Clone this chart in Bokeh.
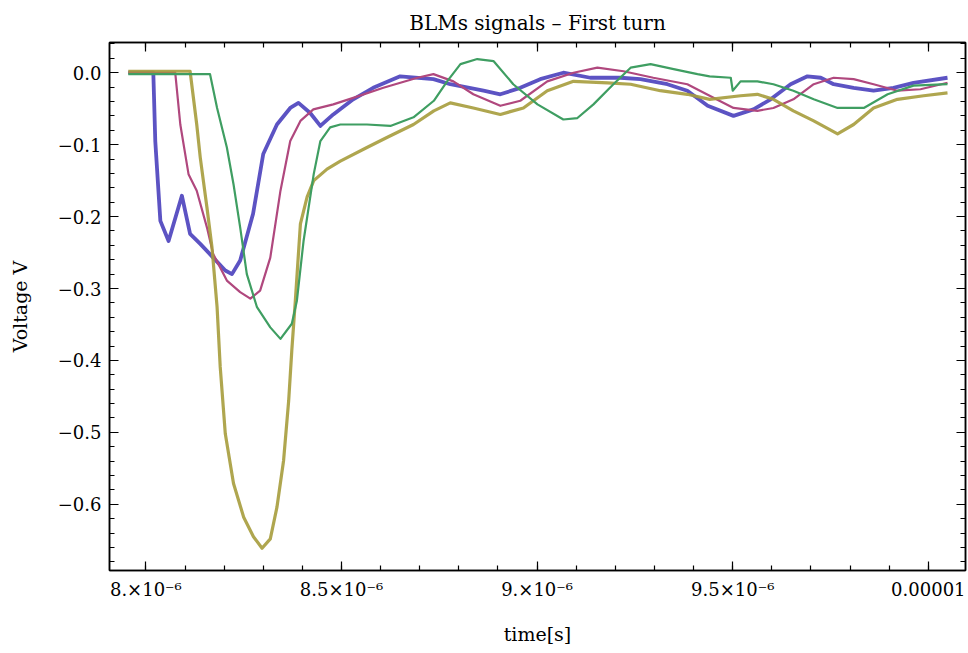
import numpy as np
from bokeh.plotting import figure
from bokeh.models import Range1d, LinearAxis, FixedTicker, CustomJSTickFormatter
from bokeh.embed import file_html
from bokeh.resources import INLINE

# time in microseconds, voltage in V
BLUE_T = [7.955, 8.019, 8.024, 8.037, 8.058, 8.092, 8.113, 8.139, 8.172, 8.203, 8.220, 8.241, 8.274,
          8.300, 8.335, 8.369, 8.390, 8.420, 8.446, 8.479, 8.530, 8.581, 8.650, 8.735, 8.778, 8.863,
          8.906, 8.957, 9.008, 9.067, 9.136, 9.213, 9.264, 9.333, 9.384, 9.436, 9.502, 9.553, 9.597,
          9.648, 9.691, 9.725, 9.758, 9.809, 9.860, 9.911, 9.962, 10.049]
BLUE_V = [0.0, 0.0, -0.095, -0.206, -0.234, -0.171, -0.224, -0.238, -0.257, -0.275, -0.280, -0.261, -0.196,
          -0.113, -0.072, -0.049, -0.042, -0.056, -0.074, -0.058, -0.037, -0.021, -0.005, -0.009, -0.016, -0.025,
          -0.030, -0.021, -0.009, 0.000, -0.007, -0.007, -0.009, -0.016, -0.025, -0.046, -0.060, -0.051, -0.037,
          -0.016, -0.005, -0.007, -0.016, -0.021, -0.025, -0.021, -0.014, -0.007]

MAGENTA_T = [7.955, 8.075, 8.088, 8.109, 8.130, 8.156, 8.172, 8.207, 8.241, 8.267, 8.292, 8.318, 8.344,
             8.369, 8.395, 8.428, 8.479, 8.530, 8.607, 8.694, 8.735, 8.786, 8.837, 8.906, 8.957, 9.026,
             9.093, 9.154, 9.221, 9.297, 9.384, 9.441, 9.502, 9.563, 9.604, 9.655, 9.707, 9.758, 9.809,
             9.860, 9.921, 9.980, 10.049]
MAGENTA_V = [0.0, 0.0, -0.072, -0.141, -0.164, -0.215, -0.252, -0.289, -0.305, -0.314, -0.303, -0.257, -0.164,
             -0.095, -0.067, -0.051, -0.044, -0.035, -0.021, -0.007, -0.002, -0.012, -0.030, -0.046, -0.039, -0.012,
             0.000, 0.007, 0.002, -0.007, -0.016, -0.032, -0.049, -0.053, -0.049, -0.037, -0.016, -0.007, -0.009,
             -0.016, -0.025, -0.023, -0.014]

OLIVE_T = [7.955, 8.113, 8.130, 8.139, 8.156, 8.169, 8.182, 8.190, 8.203, 8.224, 8.250, 8.275, 8.297,
           8.318, 8.335, 8.352, 8.365, 8.373, 8.382, 8.395, 8.412, 8.429, 8.463, 8.497, 8.565, 8.616,
           8.684, 8.736, 8.778, 8.837, 8.906, 8.965, 9.026, 9.093, 9.180, 9.239, 9.315, 9.384, 9.441,
           9.520, 9.563, 9.604, 9.655, 9.707, 9.768, 9.809, 9.860, 9.921, 9.988, 10.049]
OLIVE_V = [0.002, 0.002, -0.072, -0.118, -0.187, -0.243, -0.326, -0.409, -0.502, -0.571, -0.618, -0.645, -0.661,
           -0.648, -0.604, -0.539, -0.456, -0.386, -0.317, -0.210, -0.173, -0.150, -0.134, -0.123, -0.104, -0.090,
           -0.072, -0.053, -0.042, -0.049, -0.058, -0.049, -0.025, -0.012, -0.014, -0.016, -0.025, -0.030, -0.037,
           -0.032, -0.030, -0.037, -0.053, -0.067, -0.085, -0.072, -0.049, -0.037, -0.032, -0.028]

GREEN_T = [7.955, 8.164, 8.182, 8.207, 8.224, 8.241, 8.258, 8.284, 8.318, 8.344, 8.373, 8.386, 8.403,
           8.429, 8.446, 8.471, 8.497, 8.565, 8.625, 8.684, 8.736, 8.770, 8.804, 8.847, 8.889, 8.939,
           9.001, 9.067, 9.103, 9.144, 9.195, 9.239, 9.290, 9.349, 9.410, 9.441, 9.495, 9.500, 9.520,
           9.563, 9.604, 9.655, 9.707, 9.768, 9.835, 9.896, 9.962, 10.049]
GREEN_V = [-0.002, -0.002, -0.049, -0.104, -0.155, -0.215, -0.280, -0.326, -0.354, -0.370, -0.349, -0.317, -0.234,
           -0.141, -0.095, -0.076, -0.072, -0.072, -0.074, -0.062, -0.039, -0.012, 0.012, 0.019, 0.016, -0.016,
           -0.044, -0.065, -0.063, -0.044, -0.016, 0.007, 0.012, 0.005, -0.002, -0.005, -0.007, -0.025, -0.012,
           -0.012, -0.016, -0.025, -0.037, -0.049, -0.049, -0.030, -0.018, -0.016]

X_MAJOR = [8.0, 8.5, 9.0, 9.5, 10.0]
X_LABELS = ["8.×10⁻⁶", "8.5×10⁻⁶", "9.×10⁻⁶", "9.5×10⁻⁶", "0.00001"]
Y_MAJOR = [0.0, -0.1, -0.2, -0.3, -0.4, -0.5, -0.6]

FONT = "DejaVu Serif"

p = figure(width=968, height=653, output_backend="svg", toolbar_location=None,
           x_range=Range1d(7.907, 10.095), y_range=Range1d(-0.692, 0.042),
           min_border_left=109, min_border_right=3, min_border_top=42, min_border_bottom=83,
           background_fill_color="white", border_fill_color="white")
p.title.text = "BLMs signals – First turn"
p.title.align = "center"
p.title.text_font = FONT
p.title.text_font_size = "20px"
p.title.text_font_style = "normal"
p.title.text_color = "black"
p.title.standoff = 16
p.grid.visible = False
p.outline_line_color = "black"
p.outline_line_width = 1.5

x_minor = [round(7.9 + 0.1 * i, 1) for i in range(23)]
y_minor = [round(0.04 - 0.02 * i, 2) for i in range(37)]

lab_map = "{" + ",".join(f"{int(round(t*10))}:'{l}'" for t, l in zip(X_MAJOR, X_LABELS)) + "}"
xfmt = CustomJSTickFormatter(code=f"const m = {lab_map}; return m[Math.round(tick*10)] || '';")
yfmt = CustomJSTickFormatter(code="return (tick < -1e-9 ? '\u2212' : '') + Math.abs(tick).toFixed(1);")
blank = CustomJSTickFormatter(code="return '';")


def style(ax):
    ax.major_tick_in = 9
    ax.major_tick_out = 0
    ax.minor_tick_in = 5
    ax.minor_tick_out = 0
    ax.axis_line_width = 1.5
    ax.major_tick_line_width = 1.2
    ax.minor_tick_line_width = 1.2
    ax.major_label_text_font = FONT
    ax.major_label_text_font_size = "18px"
    ax.major_label_text_color = "black"
    ax.axis_label_text_font = FONT
    ax.axis_label_text_font_size = "19px"
    ax.axis_label_text_font_style = "normal"
    ax.axis_label_text_color = "black"


xa = p.xaxis[0]
xa.ticker = FixedTicker(ticks=X_MAJOR, minor_ticks=x_minor)
xa.formatter = xfmt
xa.axis_label = "time[s]"
xa.major_label_standoff = 8
xa.axis_label_standoff = 20
style(xa)

ya = p.yaxis[0]
ya.ticker = FixedTicker(ticks=Y_MAJOR, minor_ticks=y_minor)
ya.formatter = yfmt
ya.axis_label = "Voltage V"
ya.major_label_standoff = 8
ya.axis_label_standoff = 24
style(ya)

top = LinearAxis(ticker=FixedTicker(ticks=X_MAJOR, minor_ticks=x_minor), formatter=blank,
                 major_label_standoff=0)
style(top)
p.add_layout(top, "above")
right = LinearAxis(ticker=FixedTicker(ticks=Y_MAJOR, minor_ticks=y_minor), formatter=blank,
                   major_label_standoff=0)
style(right)
p.add_layout(right, "right")

p.line(BLUE_T, BLUE_V, line_color="#4a40bd", line_width=3.8, line_join="round", line_alpha=0.9)
p.line(MAGENTA_T, MAGENTA_V, line_color="#b0487e", line_width=2.2, line_join="round")
p.line(OLIVE_T, OLIVE_V, line_color="#a69c3c", line_width=3.2, line_join="round", line_alpha=0.9)
p.line(GREEN_T, GREEN_V, line_color="#3f9e62", line_width=2.2, line_join="round")

open("out.html", "w").write(file_html(p, INLINE))
